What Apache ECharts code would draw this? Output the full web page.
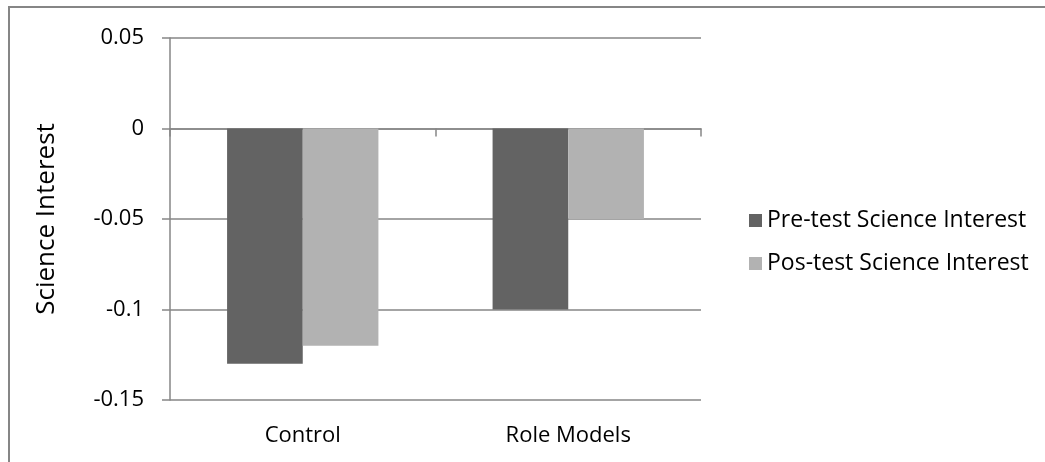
<!DOCTYPE html>
<html>
<head>
<meta charset="utf-8">
<script src="https://cdn.jsdelivr.net/npm/echarts@6/dist/echarts.min.js"></script>
<style>
  html, body { margin: 0; padding: 0; background: #fff; }
  #main { width: 1045px; height: 462px; }
</style>
</head>
<body>
<div id="main"></div>
<script>
// 数据
const categories = ["Control", "Role Models"];
const seriesNames = ["Pre-test Science Interest", "Pos-test Science Interest"];
const preTest = [-0.13, -0.1];
const posTest = [-0.12, -0.05];
const yMin = -0.15, yMax = 0.05, yStep = 0.05;

const lineColor = "#868686";
const font = "'Open Sans', sans-serif";

const myChart = echarts.init(document.getElementById("main"));
const option = {
  animation: false,
  backgroundColor: "#fff",
  textStyle: { fontFamily: font, color: "#000" },
  // 外边框
  graphic: [{
    type: "rect",
    shape: { x: 9, y: 7, width: 1100, height: 500 },
    style: { fill: "none", stroke: lineColor, lineWidth: 2 },
    silent: true,
  }],
  grid: { left: 170, right: 344, top: 38, bottom: 62 },
  legend: {
    orient: "vertical",
    left: 744,
    top: 204,
    itemWidth: 13,
    itemHeight: 13,
    itemGap: 20,
    icon: "rect",
    data: seriesNames,
    textStyle: { fontFamily: font, fontSize: 23, color: "#000" },
  },
  xAxis: [
    {
      // 底部标签
      type: "category",
      data: categories,
      position: "bottom",
      axisLine: { show: false, onZero: false },
      axisTick: { show: false },
      axisLabel: { fontFamily: font, fontSize: 22, color: "#000", margin: 25 },
    },
    {
      // 零线
      type: "category",
      data: categories,
      position: "bottom",
      axisLine: { show: true, onZero: true, lineStyle: { color: lineColor, width: 1.5 } },
      axisTick: { show: true, length: 8, lineStyle: { color: lineColor, width: 1.5 } },
      axisLabel: { show: false },
    },
  ],
  yAxis: {
    type: "value",
    min: yMin,
    max: yMax,
    interval: yStep,
    name: "Science Interest",
    nameLocation: "middle",
    nameRotate: 90,
    nameGap: 110,
    nameTextStyle: { fontFamily: font, fontSize: 26, color: "#000" },
    axisLine: { show: true, lineStyle: { color: lineColor, width: 1.5 } },
    axisTick: { show: true, length: 8, lineStyle: { color: lineColor, width: 1.5 } },
    axisLabel: { fontFamily: font, fontSize: 22, color: "#000", margin: 26 },
    splitLine: { show: true, lineStyle: { color: lineColor, width: 1.5 } },
  },
  series: [
    {
      name: seriesNames[0],
      type: "bar",
      xAxisIndex: 0,
      data: preTest,
      barGap: "0%",
      barCategoryGap: "43%",
      itemStyle: { color: "#636363" },
    },
    {
      name: seriesNames[1],
      type: "bar",
      xAxisIndex: 0,
      data: posTest,
      barGap: "0%",
      barCategoryGap: "43%",
      itemStyle: { color: "#b2b2b2" },
    },
  ],
};
myChart.setOption(option);
</script>
</body>
</html>
